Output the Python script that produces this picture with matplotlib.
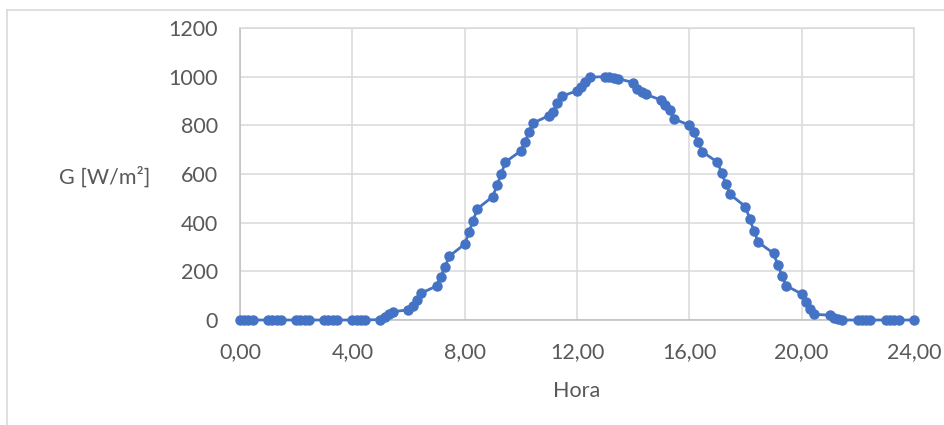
import matplotlib
matplotlib.use("Agg")
import matplotlib.pyplot as plt
from matplotlib.lines import Line2D

# Measurement times (hour.minute notation as logged) and global irradiance
hora = [
    0.00, 0.15, 0.30, 0.45, 1.00, 1.15, 1.30, 1.45,
    2.00, 2.15, 2.30, 2.45, 3.00, 3.15, 3.30, 3.45,
    4.00, 4.15, 4.30, 4.45, 5.00, 5.15, 5.30, 5.45,
    6.00, 6.15, 6.30, 6.45, 7.00, 7.15, 7.30, 7.45,
    8.00, 8.15, 8.30, 8.45, 9.00, 9.15, 9.30, 9.45,
    10.00, 10.15, 10.30, 10.45, 11.00, 11.15, 11.30, 11.45,
    12.00, 12.15, 12.30, 12.45, 13.00, 13.15, 13.30, 13.45,
    14.00, 14.15, 14.30, 14.45, 15.00, 15.15, 15.30, 15.45,
    16.00, 16.15, 16.30, 16.45, 17.00, 17.15, 17.30, 17.45,
    18.00, 18.15, 18.30, 18.45, 19.00, 19.15, 19.30, 19.45,
    20.00, 20.15, 20.30, 20.45, 21.00, 21.15, 21.30, 21.45,
    22.00, 22.15, 22.30, 22.45, 23.00, 23.15, 23.30, 23.45,
    24.00,
]
irradiancia = [
    0, 0, 0, 0, 0, 0, 0, 0,
    0, 0, 0, 0, 0, 0, 0, 0,
    0, 0, 0, 0, 2, 14, 24, 34,
    42, 58, 82, 110, 140, 178, 218, 262,
    312, 360, 408, 457, 507, 553, 600, 649,
    695, 733, 774, 810, 840, 853, 890, 919,
    942, 958, 978, 998, 1000, 998, 995, 992,
    976, 950, 938, 927, 904, 884, 863, 826,
    801, 774, 733, 692, 649, 604, 560, 516,
    466, 415, 367, 320, 274, 226, 182, 141,
    107, 73, 45, 23, 20, 10, 3, 0,
    0, 0, 0, 0, 0, 0, 0, 0,
    0,
]

x_ticks = [0, 4, 8, 12, 16, 20, 24]
x_tick_labels = ["0,00", "4,00", "8,00", "12,00", "16,00", "20,00", "24,00"]
y_ticks = [0, 200, 400, 600, 800, 1000, 1200]
y_tick_labels = ["0", "200", "400", "600", "800", "1000", "1200"]

plt.rcParams["font.family"] = ["Lato", "DejaVu Sans"]
text_color = "#595959"
grid_color = "#D9D9D9"
blue = "#4472C4"
fs = 15.5

fig = plt.figure(figsize=(9.45, 4.25), dpi=100)
ax = fig.add_axes([240 / 945, 1 - 320 / 425, (914 - 240) / 945, (320 - 28) / 425])

ax.plot(hora, irradiancia, color=blue, lw=2.0, marker="o", ms=6.5,
        markerfacecolor=blue, markeredgecolor=blue, zorder=3, clip_on=False)

ax.set_xlim(0, 24)
ax.set_ylim(0, 1200)
ax.set_xticks(x_ticks)
ax.set_xticklabels(x_tick_labels)
ax.set_yticks(y_ticks)
ax.set_yticklabels(y_tick_labels)
ax.tick_params(axis="both", length=0, labelsize=fs, colors=text_color)
ax.tick_params(axis="x", pad=16)
ax.tick_params(axis="y", pad=16)

ax.grid(True, color=grid_color, lw=1.1, zorder=0)
ax.set_axisbelow(True)
for side in ("top", "right"):
    ax.spines[side].set_color(grid_color)
    ax.spines[side].set_linewidth(1.1)
ax.spines["left"].set_color("#BFBFBF")
ax.spines["left"].set_linewidth(1.1)
ax.spines["bottom"].set_color("#BFBFBF")
ax.spines["bottom"].set_linewidth(1.1)

fig.text(105 / 945, 1 - 177 / 425, "G [W/m²]", fontsize=fs, color=text_color,
         ha="center", va="center")
fig.text(577 / 945, 1 - 391 / 425, "Hora", fontsize=fs, color=text_color,
         ha="center", va="center")

# Chart-area frame
fig.add_artist(Line2D([7 / 945, 1.0], [1 - 10 / 425, 1 - 10 / 425],
                      transform=fig.transFigure, color=grid_color, lw=1.2))
fig.add_artist(Line2D([7 / 945, 7 / 945], [0.0, 1 - 10 / 425],
                      transform=fig.transFigure, color=grid_color, lw=1.2))

fig.savefig("out.png", dpi=100)
